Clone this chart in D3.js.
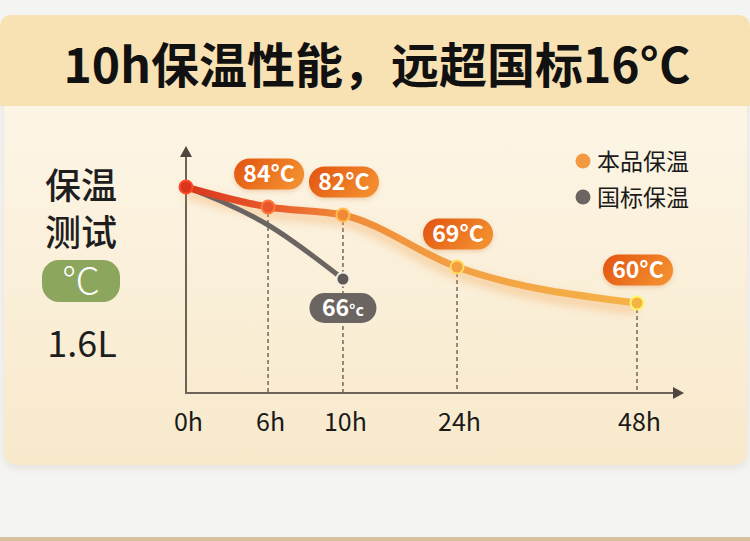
<!DOCTYPE html>
<html><head><meta charset="utf-8">
<script src="https://cdn.jsdelivr.net/npm/d3@7/dist/d3.min.js"></script>
<style>
html,body{margin:0;padding:0;background:#f4f4f3;}
svg{display:block;}
text{font-family:"Noto Sans CJK SC","Noto Sans",sans-serif;}
</style></head>
<body>
<svg id="c" width="750" height="541"></svg>
<script>
// ---- data ----
const title = "10h保温性能，远超国标16°C";
const hours = [0, 6, 10, 24, 48];
const tickLabels = ["0h", "6h", "10h", "24h", "48h"];
const productTemps = [89, 84, 82, 69, 60];
const productLabels = ["", "84°C", "82°C", "69°C", "60°C"];
const standardHours = [0, 6, 10];
const standardTemps = [89, 79.5, 66];
const standardLabel = "66";
const legendNames = ["本品保温", "国标保温"];
const sideLines = ["保温", "测试"];
const sideUnit = "°C";
const sideVolume = "1.6L";

// ---- setup ----
const W = 750, H = 541;
const svg = d3.select("#c");
const defs = svg.append("defs");

const left = 186, right = 637, axisY = 393, topY = 146;
const x = d3.scaleLinear()
  .domain(hours)
  .range([0, 0.182, 0.348, 0.601, 1].map(f => left + f * (right - left)));
const y = d3.scaleLinear().domain([37.5, 89]).range([axisY, 187]);

// background
svg.append("rect").attr("width", W).attr("height", H).attr("fill", "#f4f4f3");
svg.append("rect").attr("x", 0).attr("y", 537).attr("width", W).attr("height", 4).attr("fill", "#d7c09f");

const bodyGrad = defs.append("linearGradient").attr("id", "bodyGrad").attr("x1", 0).attr("y1", 0).attr("x2", 0).attr("y2", 1);
bodyGrad.append("stop").attr("offset", 0).attr("stop-color", "#fdf7ea");
bodyGrad.append("stop").attr("offset", 1).attr("stop-color", "#f8e9cb");

const shadow = defs.append("filter").attr("id", "cardShadow").attr("x", "-5%").attr("y", "-5%").attr("width", "110%").attr("height", "115%");
shadow.append("feDropShadow").attr("dx", 0).attr("dy", 3).attr("stdDeviation", 4).attr("flood-color", "#b8a990").attr("flood-opacity", 0.25);

svg.append("rect").attr("x", 4).attr("y", 60).attr("width", 743).attr("height", 405)
  .attr("rx", 13).attr("fill", "url(#bodyGrad)").attr("filter", "url(#cardShadow)");
svg.append("path")
  .attr("d", "M0,28 Q0,15 13,15 L737,15 Q750,15 750,28 L750,106 L0,106 Z")
  .attr("fill", "#f8e2b3");

svg.append("text").attr("x", 377).attr("y", 83).attr("text-anchor", "middle")
  .attr("font-size", 48).attr("font-weight", 700).attr("fill", "#111").text(title);

// side texts
sideLines.forEach((t, i) => {
  svg.append("text").attr("x", 81).attr("y", 199 + i * 47).attr("text-anchor", "middle")
    .attr("font-size", 36).attr("font-weight", 500).attr("fill", "#1e1e1e").text(t);
});
svg.append("rect").attr("x", 42).attr("y", 260).attr("width", 78).attr("height", 42).attr("rx", 17).attr("fill", "#8da65d");
svg.append("text").attr("x", 81).attr("y", 295).attr("text-anchor", "middle")
  .attr("font-size", 38).attr("font-weight", 300).attr("fill", "#fff").text(sideUnit);
svg.append("text").attr("x", 82).attr("y", 357).attr("text-anchor", "middle")
  .attr("font-size", 36).attr("font-weight", 400).attr("fill", "#1e1e1e").text(sideVolume);

// ---- gradients & filters ----
const lineColors = ["#d9361d", "#e8582a", "#f08a38", "#f3a044", "#f5b347"];
const colorAt = d3.scaleLinear().domain(hours.map(h => x(h))).range(lineColors);
const lg = defs.append("linearGradient").attr("id", "lineGrad").attr("gradientUnits", "userSpaceOnUse")
  .attr("x1", x(0)).attr("x2", x(48)).attr("y1", 0).attr("y2", 0);
hours.forEach((h, i) => lg.append("stop").attr("offset", (x(h) - x(0)) / (x(48) - x(0))).attr("stop-color", lineColors[i]));

const pg = defs.append("linearGradient").attr("id", "pillGrad").attr("x1", 0).attr("y1", 0).attr("x2", 1).attr("y2", 0.4);
pg.append("stop").attr("offset", 0).attr("stop-color", "#e2520e");
pg.append("stop").attr("offset", 1).attr("stop-color", "#f28c2e");

const glow = defs.append("filter").attr("id", "glow").attr("x", "-10%").attr("y", "-50%").attr("width", "120%").attr("height", "200%");
glow.append("feGaussianBlur").attr("stdDeviation", 5);

const pillShadow = defs.append("filter").attr("id", "pillShadow").attr("x", "-20%").attr("y", "-30%").attr("width", "140%").attr("height", "170%");
pillShadow.append("feDropShadow").attr("dx", 0).attr("dy", 2).attr("stdDeviation", 2).attr("flood-color", "#c86a20").attr("flood-opacity", 0.25);

// ---- dashed guides ----
const g = svg.append("g");
hours.slice(1).forEach((h, i) => {
  g.append("line").attr("x1", x(h)).attr("x2", x(h))
    .attr("y1", y(productTemps[i + 1]) + 6).attr("y2", axisY)
    .attr("stroke", "#7d6e62").attr("stroke-width", 1.6).attr("stroke-dasharray", "4,3");
});

// ---- axes ----
const xAxis = d3.axisBottom(x).tickValues(hours).tickSize(0).tickPadding(0)
  .tickFormat((d, i) => tickLabels[i]);
const ax = g.append("g").attr("transform", `translate(0,${axisY})`).call(xAxis);
ax.select(".domain").remove();
ax.selectAll("text").attr("dy", 0).attr("y", 38).attr("dx", 2)
  .attr("font-size", 25).attr("fill", "#1a1a1a")
  .attr("font-family", "'Noto Sans','Noto Sans CJK SC',sans-serif");

const axisColor = "#6e6358";
g.append("line").attr("x1", left).attr("x2", 675).attr("y1", axisY).attr("y2", axisY)
  .attr("stroke", axisColor).attr("stroke-width", 2);
g.append("path").attr("d", `M673,${axisY - 6}L684,${axisY}L673,${axisY + 6}Z`).attr("fill", "#4f4640");
g.append("line").attr("x1", left).attr("x2", left).attr("y1", axisY + 1).attr("y2", 155)
  .attr("stroke", axisColor).attr("stroke-width", 2);
g.append("path").attr("d", `M${left - 6},157L${left},${topY}L${left + 6},157Z`).attr("fill", "#4f4640");

// ---- lines ----
const productData = hours.map((h, i) => ({ h, v: productTemps[i], label: productLabels[i] }));
const standardData = standardHours.map((h, i) => ({ h, v: standardTemps[i] }));
const line = d3.line().x(d => x(d.h)).y(d => y(d.v)).curve(d3.curveMonotoneX);

g.append("path").datum(productData).attr("d", line).attr("transform", "translate(0,6)")
  .attr("fill", "none").attr("stroke", "#f2a04f").attr("stroke-width", 10).attr("opacity", 0.4).attr("filter", "url(#glow)");
g.append("path").datum(standardData).attr("d", line)
  .attr("fill", "none").attr("stroke", "#6b6561").attr("stroke-width", 5).attr("stroke-linecap", "round");
g.append("path").datum(productData).attr("d", line)
  .attr("fill", "none").attr("stroke", "url(#lineGrad)").attr("stroke-width", 7).attr("stroke-linecap", "round");

// markers
const sd = standardData[standardData.length - 1];
g.append("circle").attr("cx", x(sd.h)).attr("cy", y(sd.v)).attr("r", 6.5)
  .attr("fill", "#5f5955").attr("stroke", "#f2eee6").attr("stroke-width", 2);
productData.forEach(d => {
  g.append("circle").attr("cx", x(d.h)).attr("cy", y(d.v)).attr("r", 6.5)
    .attr("fill", colorAt(x(d.h))).attr("stroke", d3.color(colorAt(x(d.h))).brighter(0.9)).attr("stroke-width", 2);
});

// labels
productData.filter(d => d.label).forEach(d => {
  const cx = x(d.h) + 1, cy = y(d.v) - 33;
  g.append("rect").attr("x", cx - 35).attr("y", cy - 15.5).attr("width", 70).attr("height", 31).attr("rx", 15.5)
    .attr("fill", "url(#pillGrad)").attr("filter", "url(#pillShadow)");
  g.append("text").attr("x", cx).attr("y", cy + 8).attr("text-anchor", "middle")
    .attr("font-size", 23).attr("font-weight", 700).attr("fill", "#fff").text(d.label);
});
{
  const cx = x(sd.h), cy = y(sd.v) + 29;
  g.append("rect").attr("x", cx - 33.5).attr("y", cy - 15).attr("width", 67).attr("height", 30).attr("rx", 15)
    .attr("fill", "#6b6561");
  const t = g.append("text").attr("x", cx).attr("y", cy + 8).attr("text-anchor", "middle")
    .attr("font-weight", 700).attr("fill", "#fff");
  t.append("tspan").attr("font-size", 23).text(standardLabel);
  t.append("tspan").attr("font-size", 16).text("°c");
}

// legend
const legendColors = ["#f39a40", "#6b6561"];
legendNames.forEach((n, i) => {
  const ly = 161 + i * 36;
  svg.append("circle").attr("cx", 583).attr("cy", ly).attr("r", 7.5).attr("fill", legendColors[i]);
  svg.append("text").attr("x", 597).attr("y", ly + 8.5).attr("font-size", 23).attr("fill", "#1a1a1a").text(n);
});
</script>
</body></html>
